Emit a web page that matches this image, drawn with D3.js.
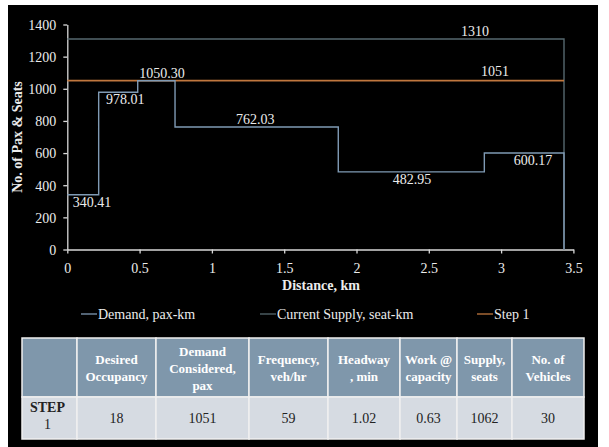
<!DOCTYPE html>
<html><head><meta charset="utf-8">
<script src="https://cdn.jsdelivr.net/npm/d3@7"></script>
<style>
html,body{margin:0;padding:0;background:#fff;}
svg{display:block;}
</style></head>
<body>
<svg id="chart" width="609" height="447"></svg>
<script>
// ---- data ----
const demandBreaks = [0, 0.217, 0.487, 0.745, 1.874, 2.884, 3.435]; // km
const demandValues = [340.41, 978.01, 1050.30, 762.03, 482.95, 600.17];
const demandLabels = ["340.41", "978.01", "1050.30", "762.03", "482.95", "600.17"];
const supplyValue = 1310;
const supplyLabel = "1310";
const step1Value = 1051;
const step1Label = "1051";
const routeEnd = 3.435;
const xTicks = [0, 0.5, 1, 1.5, 2, 2.5, 3, 3.5];
const yTicks = [0, 200, 400, 600, 800, 1000, 1200, 1400];
const legendNames = ["Demand, pax-km", "Current Supply, seat-km", "Step 1"];
const tableHeaders = [[""], ["Desired", "Occupancy"], ["Demand", "Considered,", "pax"], ["Frequency,", "veh/hr"], ["Headway", ", min"], ["Work @", "capacity"], ["Supply,", "seats"], ["No. of", "Vehicles"]];
const tableRow = [["STEP", "1"], ["18"], ["1051"], ["59"], ["1.02"], ["0.63"], ["1062"], ["30"]];

// ---- layout ----
const svg = d3.select("#chart");
const font = "'Liberation Serif', 'DejaVu Serif', serif";
const colDemand = "#7f9ab4", colSupply = "#56686f", colStep = "#c0773e", txt = "#ececec";
svg.append("rect").attr("x", 8).attr("y", 5).attr("width", 590).attr("height", 442).attr("fill", "#000");

const x = d3.scaleLinear().domain([0, 3.5]).range([67.3, 573.4]);
const y = d3.scaleLinear().domain([0, 1400]).range([249.5, 24.5]);

// axes
const gx = svg.append("g").attr("transform", `translate(0,${y(0)})`)
  .call(d3.axisBottom(x).tickValues(xTicks).tickSize(4).tickSizeOuter(0).tickFormat(d3.format("")));
const gy = svg.append("g").attr("transform", `translate(${x(0)},0)`)
  .call(d3.axisLeft(y).tickValues(yTicks).tickSize(4).tickSizeOuter(0).tickFormat(d3.format("d")));
[gx, gy].forEach(g => {
  g.selectAll("path,line").attr("stroke", "#d9d9d9").attr("stroke-width", 1.3);
  g.selectAll("text").attr("fill", txt).attr("font-family", font).attr("font-size", 14);
});
gx.selectAll("text").attr("dy", "1.2em");
gy.selectAll("text").attr("dx", "-4").attr("dy", "0.35em");

// series lines
const line = d3.line().x(d => x(d[0])).y(d => y(d[1])).curve(d3.curveStepAfter);
const supplyPts = [[0, supplyValue], [routeEnd, 0]];
svg.append("path").attr("d", line(supplyPts)).attr("fill", "none").attr("stroke", colSupply).attr("stroke-width", 1.4);
svg.append("path").attr("d", line([[0, step1Value], [routeEnd, step1Value]])).attr("fill", "none").attr("stroke", colStep).attr("stroke-width", 1.6);
const demandPts = demandValues.map((v, i) => [demandBreaks[i], v]).concat([[routeEnd, 0]]);
svg.append("path").attr("d", line(demandPts)).attr("fill", "none").attr("stroke", colDemand).attr("stroke-width", 1.4);

// data labels (anchor km along the route, above/below the line)
const labelAt = [0.171, 0.40, 0.655, 1.30, 2.384, 3.22];
const labelSide = [1, 1, -1, -1, 1, 1];
const lbl = svg.append("g").attr("font-family", font).attr("font-size", 14).attr("fill", txt).attr("text-anchor", "middle");
demandLabels.forEach((t, i) => {
  lbl.append("text").attr("x", x(labelAt[i])).attr("y", y(demandValues[i]) + (labelSide[i] > 0 ? 12 : -3)).text(t);
});
lbl.append("text").attr("x", x(2.82)).attr("y", y(supplyValue) - 3).text(supplyLabel);
lbl.append("text").attr("x", x(2.958)).attr("y", y(step1Value) - 5).text(step1Label);

// axis titles
svg.append("text").attr("x", 321).attr("y", 290).attr("text-anchor", "middle").attr("font-family", font)
  .attr("font-weight", "bold").attr("font-size", 14).attr("fill", txt).text("Distance, km");
svg.append("text").attr("transform", `translate(22,${(y(0) + y(1400)) / 2}) rotate(-90)`).attr("text-anchor", "middle")
  .attr("font-family", font).attr("font-weight", "bold").attr("font-size", 14).attr("fill", txt).text("No. of Pax & Seats");

// legend
const legX = [81, 260, 477];
const legColors = [colDemand, colSupply, colStep];
const leg = svg.append("g").attr("font-family", font).attr("font-size", 14).attr("fill", txt);
legendNames.forEach((n, i) => {
  leg.append("line").attr("x1", legX[i]).attr("x2", legX[i] + 16).attr("y1", 314).attr("y2", 314)
    .attr("stroke", legColors[i]).attr("stroke-width", 1.3);
  leg.append("text").attr("x", legX[i] + 17).attr("y", 318.5).text(n);
});

// table
const colEdges = [22, 77, 156, 249, 328, 400, 457, 512, 584];
const hTop = 338, hBot = 397, rBot = 439;
const tb = svg.append("g").attr("font-family", font).attr("text-anchor", "middle");
tableHeaders.forEach((h, i) => {
  const x0 = colEdges[i], x1 = colEdges[i + 1], cx = (x0 + x1) / 2;
  tb.append("rect").attr("x", x0).attr("y", hTop).attr("width", x1 - x0).attr("height", hBot - hTop)
    .attr("fill", "#7f97ab").attr("stroke", "#f0f0f0").attr("stroke-width", 1.5);
  tb.append("rect").attr("x", x0).attr("y", hBot).attr("width", x1 - x0).attr("height", rBot - hBot)
    .attr("fill", "#d6dbe2").attr("stroke", "#f0f0f0").attr("stroke-width", 1.5);
  const lh = 17, n = h.length, mid = (hTop + hBot) / 2;
  h.forEach((t, k) => {
    tb.append("text").attr("x", cx).attr("y", mid + (k - (n - 1) / 2) * lh + 5)
      .attr("fill", "#fff").attr("font-weight", "bold").attr("font-size", 13).text(t);
  });
  const r = tableRow[i];
  if (r.length === 1) {
    tb.append("text").attr("x", cx).attr("y", (hBot + rBot) / 2 + 5).attr("fill", "#222").attr("font-size", 14).text(r[0]);
  } else {
    r.forEach((t, k) => {
      tb.append("text").attr("x", cx - 2).attr("y", hBot + 15 + k * 17).attr("fill", "#222").attr("font-size", 14)
        .attr("font-weight", k === 0 ? "bold" : "normal").text(t);
    });
  }
});
</script>
</body></html>
